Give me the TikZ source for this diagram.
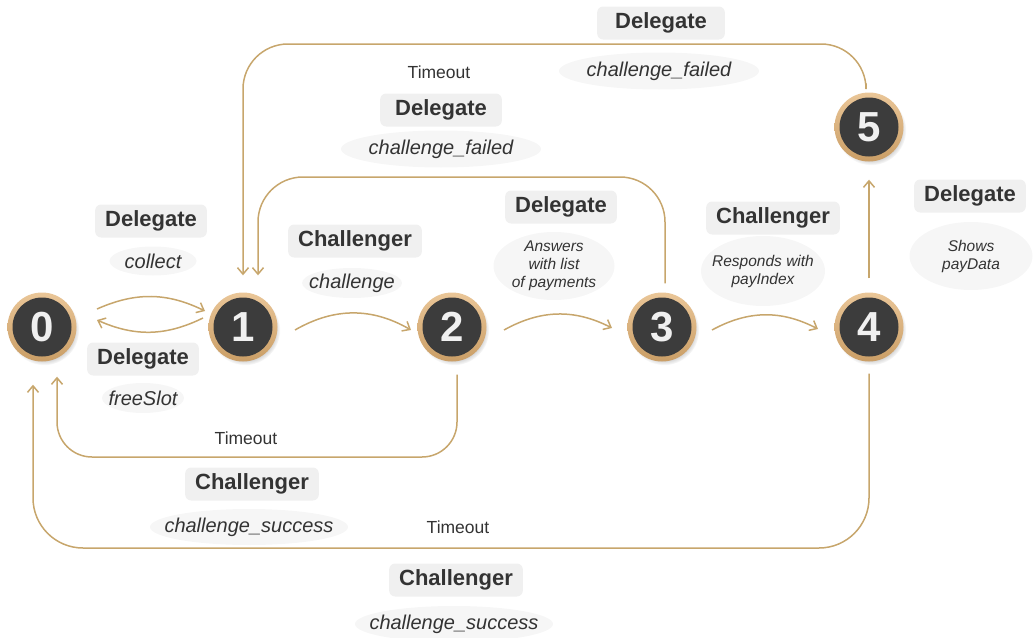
\documentclass[tikz,border=0pt]{standalone}
\usepackage{fontspec}
\setmainfont{Liberation Sans}
\usetikzlibrary{arrows.meta,shadows,calc,shapes.geometric}
\definecolor{gold}{RGB}{199,166,108}
\definecolor{ringtop}{RGB}{234,198,152}
\definecolor{ringbot}{RGB}{202,158,102}
\definecolor{dark}{RGB}{60,60,60}
\definecolor{txt}{RGB}{51,51,51}
\definecolor{boxfill}{RGB}{240,240,240}
\definecolor{ellfill}{RGB}{246,246,246}
\tikzset{
  state/.style={circle, minimum size=69pt, inner sep=0pt, top color=ringtop, bottom color=ringbot,
    circular drop shadow={shadow xshift=2pt, shadow yshift=-3pt, opacity=0.35, shadow scale=1.02},
    path picture={\fill[dark] (path picture bounding box.center) circle (29.5pt);},
    text=white!94!black, font=\bfseries\fontsize{42}{46}\selectfont},
  arr/.style={draw=gold, line width=1.5pt, -{Straight Barb[length=6.5pt,width=11pt]}},
  role/.style={fill=boxfill, rounded corners=6pt, minimum height=33pt, inner xsep=10pt,
    text=txt, font=\bfseries\fontsize{22}{24}\selectfont},
  act/.style={ellipse, fill=ellfill, inner xsep=-40pt, inner ysep=-20pt, text=txt,
    font=\itshape\fontsize{20}{22}\selectfont},
  actsm/.style={ellipse, fill=ellfill, inner xsep=-40pt, inner ysep=-30pt, text=txt, align=center,
    font=\itshape\fontsize{15.5}{18}\selectfont},
  tmo/.style={text=txt, inner sep=1pt, font=\fontsize{17.5}{20}\selectfont}
}
\begin{document}
\begin{tikzpicture}[x=1pt,y=1pt]
\useasboundingbox (0,0) rectangle (1033,-637);
% states
\node[state] (n0) at (42,-327) {0};
\node[state] (n1) at (243,-327) {1};
\node[state] (n2) at (452,-327) {2};
\node[state] (n3) at (662,-327) {3};
\node[state] (n4) at (869,-327) {4};
\node[state] (n5) at (869,-127) {5};
% free ends
\coordinate (t31) at ([xshift=15pt,yshift=17pt]n1.north);
\coordinate (t51) at ([yshift=17pt]n1.north);
\coordinate (t20) at ([xshift=15pt,yshift=-15pt]n0.south);
\coordinate (t40) at ([xshift=-9pt,yshift=-23pt]n0.south);
% short arcs
\draw[arr] ([shift={(55,18)}]n0.center) to[bend left=25] ([shift={(-38,16)}]n1.center);
\draw[arr] ([shift={(-40,9)}]n1.center) to[bend left=25] ([shift={(55,7)}]n0.center);
\draw[arr] ([shift={(52,-3)}]n1.center) to[bend left=30] ([shift={(-41,-3)}]n2.center);
\draw[arr] ([shift={(52,-3)}]n2.center) to[bend left=28] ([shift={(-50,-1)}]n3.center);
\draw[arr] ([shift={(50,-3)}]n3.center) to[bend left=28] ([shift={(-51,-2)}]n4.center);
\draw[arr] ([yshift=14pt]n4.north) -- ([yshift=-18pt]n5.south);
% long connectors
\draw[arr, rounded corners=45pt] ([shift={(3pt,9pt)}]n3.north) |- (t31 |- 0,-177) -- (t31);
\draw[arr, rounded corners=45pt] ([shift={(-3pt,9pt)}]n5.north) |- (t51 |- 0,-44) -- (t51);
\draw[arr, rounded corners=35pt] ([shift={(5pt,-13pt)}]n2.south) |- (t20 |- 0,-457) -- (t20);
\draw[arr, rounded corners=50pt] ([yshift=-12pt]n4.south) |- (t40 |- 0,-548) -- (t40);
% labels
\node[role] (r01) at (151,-221) {Delegate};
\node[act, minimum width=87pt, minimum height=29pt]  (a01) at (153,-261) {collect};
\node[role] (r10) at (143,-359) {Delegate};
\node[act, minimum width=82pt, minimum height=30pt]  (a10) at (143,-398) {freeSlot};
\node[role] (r12) at (355,-241) {Challenger};
\node[act, minimum width=100pt, minimum height=30pt]  (a12) at (352,-283) {challenge};
\node[role] (r23) at (561,-207) {Delegate};
\node[actsm, minimum width=121pt, minimum height=68pt] (a23) at (554,-266) {Answers\\with list\\of payments};
\node[role] (r34) at (773,-218) {Challenger};
\node[actsm, minimum width=124pt, minimum height=70pt] (a34) at (763,-271) {Responds with\\payIndex};
\node[role] (r45) at (970,-196) {Delegate};
\node[actsm, minimum width=123pt, minimum height=68pt] (a45) at (971,-256) {Shows\\payData};
\node[role, inner xsep=18pt] (r51) at (661,-23) {Delegate};
\node[act, minimum width=200pt, minimum height=37pt]  (a51) at (659,-71) {challenge\_failed};
\node[tmo]  (m51) at (439,-72) {Timeout};
\node[role, inner xsep=15pt] (r31) at (441,-110) {Delegate};
\node[act, minimum width=200pt, minimum height=37pt]  (a31) at (441,-149) {challenge\_failed};
\node[tmo]  (m20) at (246,-438) {Timeout};
\node[role] (r20) at (252,-484) {Challenger};
\node[act, minimum width=198pt, minimum height=36pt]  (a20) at (249,-527) {challenge\_success};
\node[tmo]  (m40) at (458,-527) {Timeout};
\node[role] (r40) at (456,-580) {Challenger};
\node[act, minimum width=198pt, minimum height=36pt]  (a40) at (454,-624) {challenge\_success};
\end{tikzpicture}
\end{document}
